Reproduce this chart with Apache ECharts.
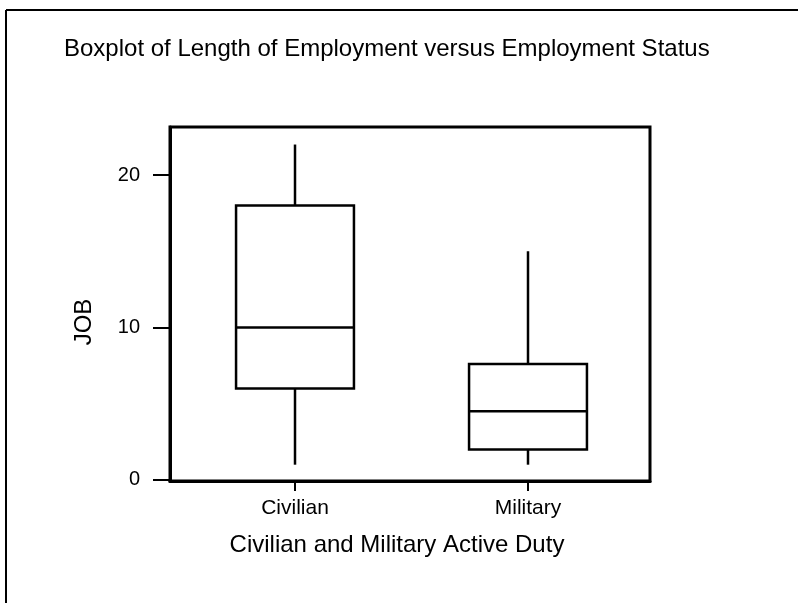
<!DOCTYPE html>
<html>
<head>
<meta charset="utf-8">
<script src="https://cdn.jsdelivr.net/npm/echarts@6/dist/echarts.min.js"></script>
<style>
  html, body { margin: 0; padding: 0; background: #fff; }
  #chart { width: 798px; height: 603px; }
</style>
</head>
<body>
<div id="chart"></div>
<script>
var categories = ['Civilian', 'Military'];
var lowWhisker = [1, 1];
var q1 = [6, 2];
var median = [10, 4.5];
var q3 = [18, 7.6];
var highWhisker = [22, 15];
var yTicks = [0, 10, 20];
var xTicks = [0, 1];

var boxData = categories.map(function (c, i) {
  return [i, lowWhisker[i], q1[i], median[i], q3[i], highWhisker[i]];
});

var FONT = '"Liberation Sans", Arial, sans-serif';
var chart = echarts.init(document.getElementById('chart'), null, { renderer: 'canvas' });

chart.setOption({
  animation: false,
  backgroundColor: '#ffffff',
  title: {
    text: 'Boxplot of Length of Employment versus Employment Status',
    left: 64,
    top: 37,
    padding: 0,
    textStyle: { fontFamily: FONT, fontSize: 24, fontWeight: 'normal', color: '#000' }
  },
  graphic: [
    { type: 'line', shape: { x1: 6, y1: 10, x2: 798, y2: 10 }, style: { stroke: '#000', lineWidth: 2 } },
    { type: 'line', shape: { x1: 6, y1: 10, x2: 6, y2: 603 }, style: { stroke: '#000', lineWidth: 2 } }
  ],
  grid: {
    left: 170, top: 127, width: 480, height: 354,
    show: true, borderColor: '#000', borderWidth: 3, backgroundColor: 'transparent'
  },
  xAxis: {
    type: 'value',
    min: -0.5365,
    max: 1.5236,
    name: 'Civilian and Military Active Duty',
    nameLocation: 'middle',
    nameGap: 52,
    nameTextStyle: { fontFamily: FONT, fontSize: 24, color: '#000', verticalAlign: 'top', padding: [0, 26, 0, 0] },
    axisLine: { show: true, onZero: false, lineStyle: { color: '#000', width: 3 } },
    axisTick: { show: true, length: 10, customValues: xTicks, lineStyle: { color: '#000', width: 2 } },
    axisLabel: {
      fontFamily: FONT, fontSize: 21, color: '#000', margin: 17, customValues: xTicks,
      formatter: function (v) { return categories[Math.round(v)] || ''; }
    },
    splitLine: { show: false }
  },
  yAxis: {
    type: 'value',
    min: -0.07,
    max: 23.15,
    name: 'JOB',
    nameLocation: 'middle',
    nameGap: 74,
    nameTextStyle: { fontFamily: FONT, fontSize: 24, color: '#000', padding: [0, 36, 0, 0] },
    axisLine: { show: true, onZero: false, lineStyle: { color: '#000', width: 3 } },
    axisTick: { show: true, inside: false, length: 17, customValues: yTicks, lineStyle: { color: '#000', width: 2 } },
    axisLabel: { fontFamily: FONT, fontSize: 20, color: '#000', margin: 30, customValues: yTicks },
    splitLine: { show: false }
  },
  series: [{
    type: 'custom',
    data: boxData,
    encode: { x: 0, y: [1, 2, 3, 4, 5] },
    renderItem: function (params, api) {
      var i = api.value(0);
      var pLo = api.coord([i, api.value(1)]);
      var pQ1 = api.coord([i, api.value(2)]);
      var pMed = api.coord([i, api.value(3)]);
      var pQ3 = api.coord([i, api.value(4)]);
      var pHi = api.coord([i, api.value(5)]);
      var half = api.size([1, 0])[0] * 0.506 / 2;
      var cx = pMed[0];
      var lw = 2.5;
      return {
        type: 'group',
        children: [
          { type: 'line', shape: { x1: cx, y1: pHi[1], x2: cx, y2: pQ3[1] }, style: { stroke: '#000', lineWidth: lw } },
          { type: 'line', shape: { x1: cx, y1: pQ1[1], x2: cx, y2: pLo[1] }, style: { stroke: '#000', lineWidth: lw } },
          { type: 'rect', shape: { x: cx - half, y: pQ3[1], width: half * 2, height: pQ1[1] - pQ3[1] }, style: { stroke: '#000', lineWidth: lw, fill: 'transparent' } },
          { type: 'line', shape: { x1: cx - half, y1: pMed[1], x2: cx + half, y2: pMed[1] }, style: { stroke: '#000', lineWidth: lw } }
        ]
      };
    }
  }]
});
</script>
</body>
</html>
